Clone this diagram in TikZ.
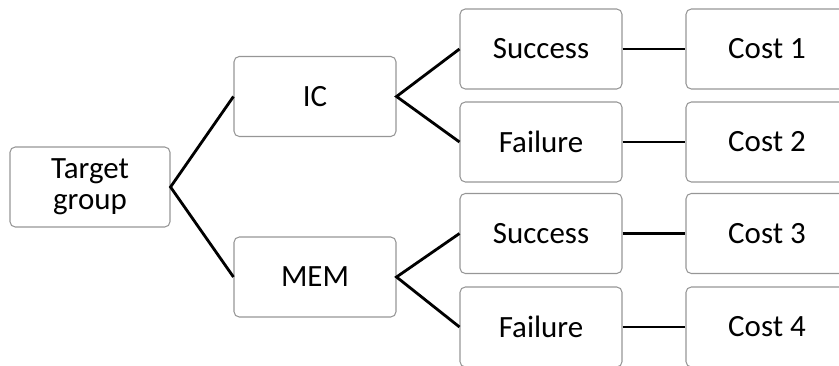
\documentclass[tikz,border=0pt]{standalone}
\usepackage{fontspec}
\setmainfont{Carlito}
\definecolor{boxgray}{RGB}{150,150,150}
\tikzset{
	box/.style={draw=boxgray, line width=0.6pt, rounded corners=3pt, minimum width=3.24cm, minimum height=1.6cm, align=center, font=\fontsize{17.6}{17.5}\selectfont},
	link/.style={line width=1.6pt}
}
\begin{document}
\begin{tikzpicture}[scale=1]

	\clip (0,0) rectangle (16.78,7.3);

	% boxes
	\node[box, minimum width=3.2cm] (target) at (1.8,3.56) {Target\\group};
	\node[box] (ic) at (6.3,5.37) {IC};
	\node[box] (mem) at (6.3,1.76) {MEM};
	\node[box] (succ1) at (10.82,6.32) {Success};
	\node[box] (fail1) at (10.82,4.46) {Failure};
	\node[box] (succ2) at (10.82,2.63) {Success};
	\node[box] (fail2) at (10.82,0.76) {Failure};
	\node[box] (cost1) at (15.34,6.32) {Cost 1};
	\node[box] (cost2) at (15.34,4.46) {Cost 2};
	\node[box] (cost3) at (15.34,2.63) {Cost 3};
	\node[box] (cost4) at (15.34,0.76) {Cost 4};

	% lines
	\draw[link] (ic.west) -- (target.east) -- (mem.west);
	\draw[link] (succ1.west) -- (ic.east) -- (fail1.west);
	\draw[link] (succ2.west) -- (mem.east) -- (fail2.west);
	\draw[link] (succ1) -- (cost1);
	\draw[link] (fail1) -- (cost2);
	\draw[link] (succ2) -- (cost3);
	\draw[link] (fail2) -- (cost4);

\end{tikzpicture}
\end{document}
